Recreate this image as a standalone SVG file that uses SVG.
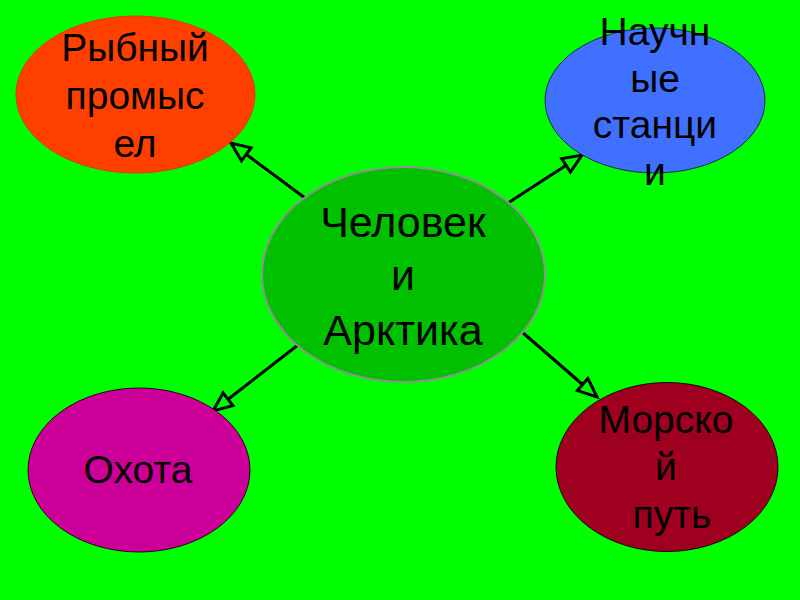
<svg xmlns="http://www.w3.org/2000/svg" width="800" height="600" viewBox="0 0 800 600">
<defs>
<style>
.t{font-family:"Liberation Sans",Arial,sans-serif;font-size:39px;fill:#000;text-anchor:middle}
.tc{font-size:43px}
.c{stroke:#000;stroke-width:3;fill:none}
</style>
<marker id="ah" markerUnits="userSpaceOnUse" markerWidth="26" markerHeight="22" viewBox="-3 -3 26 22" refX="19" refY="8" orient="auto">
<path d="M0,0 L19,8 L0,16 Z" fill="#00FF00" stroke="#000" stroke-width="3" stroke-linejoin="miter"/>
</marker>
</defs>
<rect width="800" height="600" fill="#00FF00"/>
<g id="connectors">
<line class="c" x1="305" y1="198" x2="231" y2="143" marker-end="url(#ah)"/>
<line class="c" x1="508" y1="203" x2="582" y2="155" marker-end="url(#ah)"/>
<line class="c" x1="298" y1="345" x2="213" y2="411" marker-end="url(#ah)"/>
<line class="c" x1="522" y1="332" x2="597" y2="397" marker-end="url(#ah)"/>
</g>
<g id="center">
<ellipse cx="403.5" cy="274.5" rx="141.5" ry="107.5" fill="#00C000" stroke="#909090" stroke-width="2"/>
<text class="t tc" x="403" y="237">Человек</text>
<text class="t tc" x="403" y="290">и</text>
<text class="t tc" x="403" y="345">Арктика</text>
</g>
<g id="fishing">
<ellipse cx="135.5" cy="94.5" rx="119.5" ry="78.5" fill="#FF3F00" stroke="#E03800" stroke-width="1"/>
<text class="t" x="135" y="61">Рыбный</text>
<text class="t" x="135" y="109">промыс</text>
<text class="t" x="135" y="157">ел</text>
</g>
<g id="stations">
<ellipse cx="655" cy="100.5" rx="110" ry="72.5" fill="#4070FF" stroke="#1a2a40" stroke-width="1"/>
<text class="t" x="655" y="45">Научн</text>
<text class="t" x="655" y="92">ые</text>
<text class="t" x="655" y="138">станци</text>
<text class="t" x="655" y="185">и</text>
</g>
<g id="hunting">
<ellipse cx="139" cy="470" rx="111" ry="82" fill="#CC0099" stroke="#2a0020" stroke-width="1"/>
<text class="t" x="138" y="483">Охота</text>
</g>
<g id="searoute">
<ellipse cx="667" cy="467" rx="111" ry="84.5" fill="#A0001F" stroke="#200008" stroke-width="1"/>
<text class="t" x="666" y="433">Морско</text>
<text class="t" x="666" y="480">й</text>
<text class="t" x="672" y="528">путь</text>
</g>
</svg>
